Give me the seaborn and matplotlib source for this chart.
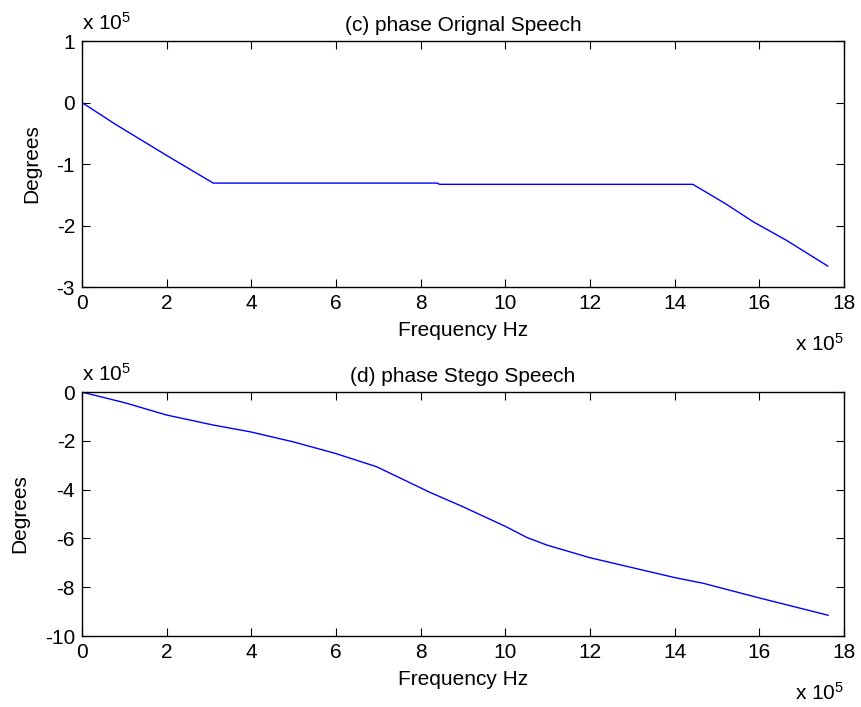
import matplotlib
matplotlib.use("Agg")
import matplotlib.pyplot as plt
import seaborn as sns
import pandas as pd
import numpy as np

# values in units of 10^5
orig_freq = [0, 0.78, 2.0, 3.1, 8.39, 8.45, 14.43, 15.19, 15.86, 16.64, 17.62]
orig_phase = [0, -0.35, -0.86, -1.31, -1.31, -1.33, -1.33, -1.64, -1.94, -2.24, -2.66]

stego_freq = [0, 1.02, 2.0, 3.1, 3.98, 4.99, 5.98, 6.96, 8.22, 9.0, 10.02, 10.51,
              10.98, 12.0, 13.99, 14.68, 15.98, 17.63]
stego_phase = [0, -0.44, -0.94, -1.35, -1.63, -2.04, -2.51, -3.06, -4.11, -4.70, -5.52, -5.96,
               -6.27, -6.79, -7.6, -7.84, -8.43, -9.15]

sns.set_style("white")
plt.rcParams['font.family'] = ['Liberation Sans', 'DejaVu Sans']
plt.rcParams['mathtext.default'] = 'regular'
plt.rcParams['axes.unicode_minus'] = False
plt.rcParams['text.color'] = 'black'
plt.rcParams['axes.labelcolor'] = 'black'
fs = 15

fig = plt.figure(figsize=(8.61, 7.07), dpi=100)
ax1 = fig.add_axes([0.0952, 0.594, 0.885, 0.348])
ax2 = fig.add_axes([0.0952, 0.1004, 0.885, 0.345])

df1 = pd.DataFrame({"f": orig_freq, "p": orig_phase})
df2 = pd.DataFrame({"f": stego_freq, "p": stego_phase})
sns.lineplot(data=df1, x="f", y="p", ax=ax1, color="#0000ff", linewidth=1, estimator=None, sort=False)
sns.lineplot(data=df2, x="f", y="p", ax=ax2, color="#0000ff", linewidth=1, estimator=None, sort=False)

ax1.set_ylim(-3, 1)
ax1.set_yticks([-3, -2, -1, 0, 1])
ax2.set_ylim(-10, 0)
ax2.set_yticks([-10, -8, -6, -4, -2, 0])
titles = ["(c) phase Orignal Speech", "(d) phase Stego Speech"]
for ax, t in zip([ax1, ax2], titles):
    ax.set_xlim(0, 18)
    ax.set_xticks(np.arange(0, 19, 2))
    ax.set_title(t, fontsize=fs, pad=7, color="black")
    ax.set_xlabel("Frequency Hz", fontsize=fs, labelpad=6)
    ax.set_ylabel("Degrees", fontsize=fs, labelpad=11)
    ax.tick_params(direction="in", length=6, width=0.8, labelsize=fs, pad=5,
                   top=True, right=True, bottom=True, left=True, colors="black")
    for s in ax.spines.values():
        s.set_color("black")
        s.set_linewidth(1)
    ax.annotate("x 10$^5$", xy=(0, 1), xycoords="axes fraction", xytext=(0, 5),
                textcoords="offset points", ha="left", va="bottom", fontsize=fs)
    ax.annotate("x 10$^5$", xy=(1, 0), xycoords="axes fraction", xytext=(0, -33),
                textcoords="offset points", ha="right", va="top", fontsize=fs)

fig.savefig("out.png", dpi=100)
